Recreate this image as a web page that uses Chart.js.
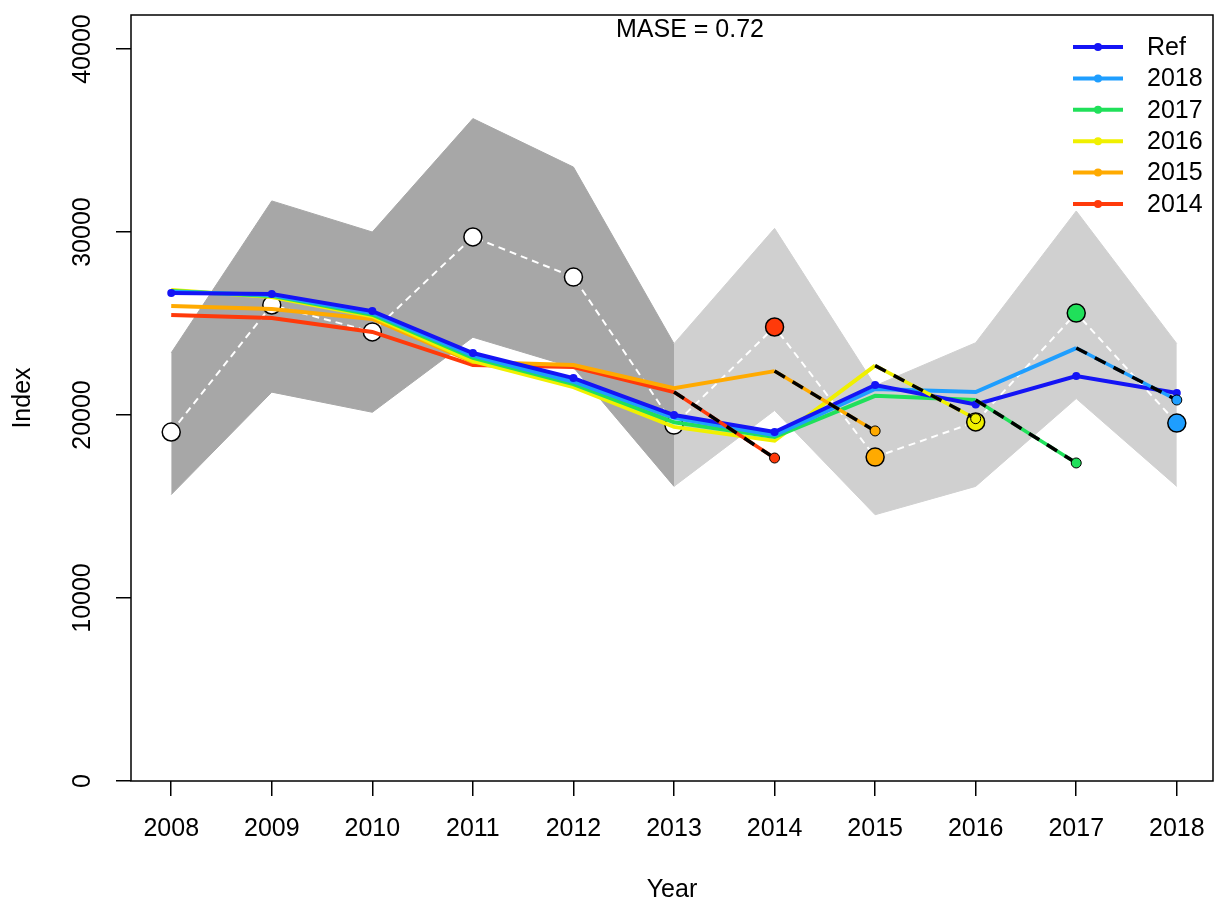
<!DOCTYPE html>
<html>
<head>
<meta charset="utf-8">
<script src="https://cdn.jsdelivr.net/npm/chart.js@4.4.1/dist/chart.umd.min.js"></script>
<style>
    html, body { margin: 0; padding: 0; background: #ffffff; overflow: hidden; }
    #wrap { width: 1215px; height: 903px; }
</style>
</head>
<body>
<div id="wrap"><canvas id="hindcast_chart"></canvas></div>
<script>
// -------------------
// DATA
// -------------------
var years = [2008, 2009, 2010, 2011, 2012, 2013, 2014, 2015, 2016, 2017, 2018];

// observed index and its interval
var obs_index = [19070, 26010, 24540, 29730, 27540, 19450, 24810, 17700, 19620, 25570, 19560];
var obs_upper = [23400, 31700, 30000, 36200, 33550, 23900, 30200, 21600, 23950, 31150, 23900];
var obs_lower = [15650, 21250, 20150, 24250, 22600, 16100, 20250, 14550, 16100, 20900, 16100];

// reference run
var ref_index = [26670, 26610, 25680, 23390, 22020, 20000, 19070, 21640, 20580, 22130, 21200];

// retrospective runs (2008 up to the last year of data)
var retro_2018 = [26730, 26560, 25580, 23250, 21820, 19850, 18900, 21420, 21260, 23660];
var retro_2017 = [26780, 26510, 25480, 23120, 21690, 19600, 18800, 21050, 20820];
var retro_2016 = [26830, 26450, 25400, 22950, 21530, 19350, 18600, 22700];
var retro_2015 = [25960, 25790, 25250, 22900, 22730, 21470, 22400];
var retro_2014 = [25460, 25300, 24540, 22730, 22620, 21260];

var peel_labels = ['2018', '2017', '2016', '2015', '2014'];
// one-year-ahead prediction, same order as peel_labels
var forecast_index = [20820, 17380, 19800, 19130, 17650];

var y_ticks = [0, 10000, 20000, 30000, 40000];
var mase_text = 'MASE = 0.72';

// -------------------
// COLORS
// -------------------
const colors = {
    ref: '#1414f5',
    r2018: '#1e9eff',
    r2017: '#20e05a',
    r2016: '#f0f000',
    r2015: '#ffaa00',
    r2014: '#ff3a0a',
    darkGray: '#a7a7a7',
    lightGray: '#d0d0d0',
};
var retro_colors = [colors.r2018, colors.r2017, colors.r2016, colors.r2015, colors.r2014];
var retro_values = [retro_2018, retro_2017, retro_2016, retro_2015, retro_2014];

const FONT = "'Liberation Sans', Arial, sans-serif";

function pts(xs, ys) {
    return ys.map(function (v, i) { return { x: xs[i], y: v }; });
}

// -------------------
// SERIES
// -------------------
var datasets = [];

// interval polygons
datasets.push({
    data: pts(years.slice(0, 6), obs_upper.slice(0, 6)),
    fill: '+1', backgroundColor: colors.darkGray,
    borderColor: colors.darkGray, borderWidth: 1, pointRadius: 0, order: 100,
});
datasets.push({
    data: pts(years.slice(0, 6), obs_lower.slice(0, 6)),
    fill: false, borderColor: colors.darkGray, borderWidth: 1, pointRadius: 0, order: 100,
});
datasets.push({
    data: pts(years.slice(5), obs_upper.slice(5)),
    fill: '+1', backgroundColor: colors.lightGray,
    borderColor: colors.lightGray, borderWidth: 1, pointRadius: 0, order: 99,
});
datasets.push({
    data: pts(years.slice(5), obs_lower.slice(5)),
    fill: false, borderColor: colors.lightGray, borderWidth: 1, pointRadius: 0, order: 99,
});

// observations, dashed white line + circles
datasets.push({
    data: pts(years, obs_index),
    borderColor: '#ffffff', borderWidth: 2, borderDash: [7, 5],
    pointRadius: 0, fill: false, order: 90,
});
var obs_fill = years.map(function (y) {
    var k = peel_labels.indexOf(String(y));
    return k < 0 ? '#ffffff' : retro_colors[k];
});
datasets.push({
    data: pts(years, obs_index),
    showLine: false, pointRadius: 9, pointBackgroundColor: obs_fill,
    pointBorderColor: '#000000', pointBorderWidth: 1.5, order: 80,
});

// retro runs
retro_values.forEach(function (vals, k) {
    datasets.push({
        label: peel_labels[k],
        data: pts(years, vals),
        borderColor: retro_colors[k], borderWidth: 4, pointRadius: 0,
        fill: false, order: 70,
    });
});

// reference
datasets.push({
    label: 'Ref',
    data: pts(years, ref_index),
    borderColor: colors.ref, borderWidth: 4,
    pointRadius: 4, pointBackgroundColor: colors.ref, pointBorderWidth: 0,
    fill: false, order: 60,
});

// forecast segments
retro_values.forEach(function (vals, k) {
    var last = vals.length - 1;
    var seg = [
        { x: years[last], y: vals[last] },
        { x: years[last + 1], y: forecast_index[k] },
    ];
    datasets.push({
        data: seg, borderColor: retro_colors[k], borderWidth: 3.5,
        pointRadius: 0, fill: false, order: 50,
    });
    datasets.push({
        data: seg, borderColor: '#000000', borderWidth: 3.5, borderDash: [12, 9],
        pointRadius: 0, fill: false, order: 40,
    });
});
datasets.push({
    data: retro_values.map(function (vals, k) {
        return { x: years[vals.length], y: forecast_index[k] };
    }),
    showLine: false, pointRadius: 5, pointBackgroundColor: retro_colors,
    pointBorderColor: '#000000', pointBorderWidth: 1, order: 30,
});

// -------------------
// PLUGIN: box, MASE text, legend
// -------------------
const framePlugin = {
    id: 'frame',
    afterDraw: function (chart) {
        var ctx = chart.ctx;
        var a = chart.chartArea;
        ctx.save();
        ctx.strokeStyle = '#000000';
        ctx.lineWidth = 1.5;
        ctx.strokeRect(a.left, a.top, a.right - a.left, a.bottom - a.top);

        ctx.fillStyle = '#000000';
        ctx.font = '25px ' + FONT;
        ctx.textBaseline = 'middle';
        ctx.textAlign = 'center';
        ctx.fillText(mase_text, 690, 30);

        var entries = [{ label: 'Ref', color: colors.ref }];
        peel_labels.forEach(function (p, k) { entries.push({ label: p, color: retro_colors[k] }); });
        entries.forEach(function (e, i) {
            var y = 47 + i * 31.4;
            ctx.strokeStyle = e.color;
            ctx.lineWidth = 4;
            ctx.beginPath();
            ctx.moveTo(1073, y);
            ctx.lineTo(1123, y);
            ctx.stroke();
            ctx.fillStyle = e.color;
            ctx.beginPath();
            ctx.arc(1098, y, 4, 0, Math.PI * 2);
            ctx.fill();
            ctx.fillStyle = '#000000';
            ctx.textAlign = 'left';
            ctx.fillText(e.label, 1147, y + 1);
        });
        ctx.restore();
    },
};

// -------------------
// OPTIONS
// -------------------
const options = {
    responsive: true,
    maintainAspectRatio: false,
    animation: false,
    layout: {
        autoPadding: false,
        padding: { left: 0, right: 2, top: 15, bottom: 0 },
    },
    plugins: {
        legend: { display: false },
        tooltip: { enabled: false },
        filler: { drawTime: 'beforeDatasetsDraw' },
    },
    scales: {
        x: {
            type: 'linear',
            min: 2007.6,
            max: 2018.36,
            afterBuildTicks: function (scale) {
                scale.ticks = years.map(function (v) { return { value: v }; });
            },
            border: { display: false },
            grid: {
                display: true, drawOnChartArea: false, drawTicks: true,
                tickLength: 15, color: '#000000', lineWidth: 1.5,
            },
            ticks: {
                autoSkip: false, maxRotation: 0, padding: 0, color: '#000000',
                font: { family: FONT, size: 25, lineHeight: 2.64 },
                callback: function (value) { return String(value); },
            },
            title: {
                display: true, text: 'Year', color: '#000000',
                font: { family: FONT, size: 25, lineHeight: 1 },
                padding: { top: 16, bottom: 0 },
            },
        },
        y: {
            type: 'linear',
            min: 0,
            max: 41860,
            afterBuildTicks: function (scale) {
                scale.ticks = y_ticks.map(function (v) { return { value: v }; });
            },
            border: { display: false },
            grid: {
                display: true, drawOnChartArea: false, drawTicks: true,
                tickLength: 15, color: '#000000', lineWidth: 1.5,
            },
            ticks: {
                minRotation: 90, maxRotation: 90, crossAlign: 'center',
                padding: -2, color: '#000000',
                font: { family: FONT, size: 25 },
                callback: function (value) { return String(value); },
            },
            title: {
                display: true, text: 'Index', color: '#000000',
                font: { family: FONT, size: 25, lineHeight: 1 },
                padding: { top: 10.5, bottom: 54.5 },
            },
        },
    },
};

var ctx = document.getElementById('hindcast_chart').getContext('2d');
var myChart = new Chart(ctx, {
    type: 'line',
    data: { datasets: datasets },
    options: options,
    plugins: [framePlugin],
});
</script>
</body>
</html>
